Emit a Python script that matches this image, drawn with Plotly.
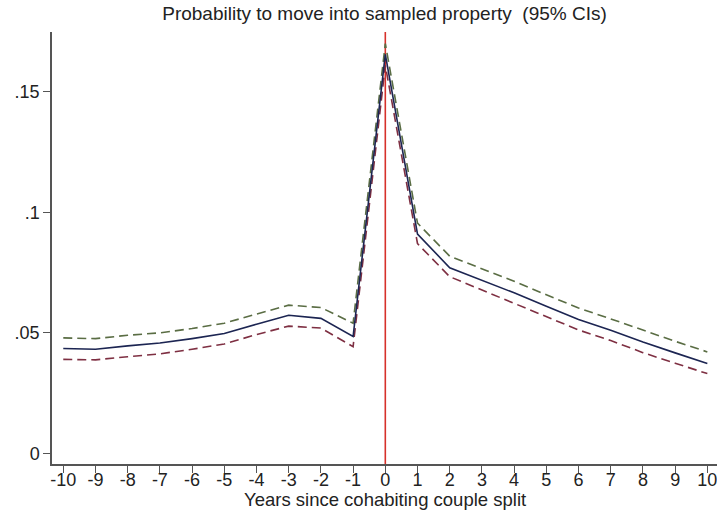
import plotly.graph_objects as go

years = list(range(-10, 11))
year_labels = [str(v) for v in years]
mean = [0.0435, 0.0432, 0.0446, 0.0458, 0.0476, 0.0497, 0.0536, 0.0573, 0.0560, 0.0485,
        0.1655, 0.0910, 0.0770, 0.0719, 0.0666, 0.0610, 0.0555, 0.0511, 0.0462, 0.0417, 0.0373]
upper = [0.0479, 0.0476, 0.0490, 0.0500, 0.0518, 0.0540, 0.0578, 0.0615, 0.0605, 0.0540,
         0.1700, 0.0955, 0.0818, 0.0766, 0.0714, 0.0658, 0.0603, 0.0558, 0.0510, 0.0465, 0.0421]
lower = [0.0390, 0.0388, 0.0401, 0.0413, 0.0432, 0.0454, 0.0493, 0.0528, 0.0520, 0.0443,
         0.1610, 0.0870, 0.0733, 0.0678, 0.0624, 0.0567, 0.0512, 0.0468, 0.0418, 0.0374, 0.0331]
ytick_vals = [0, 0.05, 0.1, 0.15]
ytick_text = ["0", ".05", ".1", ".15"]
title = "Probability to move into sampled property  (95% CIs)"
xtitle = "Years since cohabiting couple split"

fig = go.Figure()
fig.add_trace(go.Scatter(x=years, y=upper, mode="lines",
                         line=dict(color="#5a6d44", width=1.6, dash="9px,5px")))
fig.add_trace(go.Scatter(x=years, y=lower, mode="lines",
                         line=dict(color="#7e2f42", width=1.6, dash="9px,5px")))
fig.add_trace(go.Scatter(x=years, y=mean, mode="lines",
                         line=dict(color="#1c2552", width=1.6)))
fig.add_shape(type="line", xref="x", yref="paper", x0=0, x1=0, y0=0, y1=1,
              line=dict(color="#d6312b", width=1.6), layer="below")
fig.add_annotation(text=xtitle, xref="paper", yref="paper", x=0.5, y=(464 - 500) / 432,
                   xanchor="center", yanchor="middle", showarrow=False,
                   font=dict(size=18.5, color="#222"))

fig.update_layout(
    width=717, height=519,
    margin=dict(l=52, r=0, t=32, b=55, autoexpand=False),
    paper_bgcolor="white", plot_bgcolor="white",
    showlegend=False,
    font=dict(family="Liberation Sans, Arial, sans-serif", color="#222", size=18),
    title=dict(text=title, x=0.5, xref="paper", y=1 - 13 / 519, yref="container",
               xanchor="center", yanchor="middle",
               font=dict(size=19, color="#222")),
    xaxis=dict(range=[-10.35, 10.3], tickmode="array", tickvals=years,
               ticktext=year_labels, ticklabeloverflow="allow",
               showgrid=False, zeroline=False, showline=True, linecolor="#555",
               linewidth=1.5, ticks="outside", ticklen=7, tickcolor="#555",
               tickwidth=1.2, automargin=False, ticklabelstandoff=-8),
    yaxis=dict(range=[-0.0044, 0.1748], tickmode="array", tickvals=ytick_vals,
               ticktext=ytick_text, showgrid=False, zeroline=False, showline=True,
               linecolor="#555", linewidth=1.5, ticks="outside", ticklen=7,
               tickcolor="#555", tickwidth=1.2, automargin=False,
               ticklabelstandoff=0),
)
fig.write_html("out.html", config={"displayModeBar": False},
               post_script="document.body.style.margin='0';")
